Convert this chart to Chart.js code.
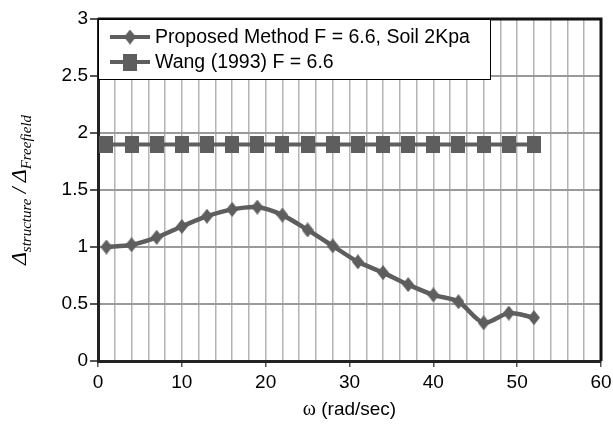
<!DOCTYPE html>
<html>
<head>
<meta charset="utf-8">
<script src="https://cdn.jsdelivr.net/npm/chart.js@4"></script>
<style>
  html, body { margin: 0; padding: 0; background: #fff; }
  #wrap { width: 613px; height: 431px; }
</style>
</head>
<body>
<div id="wrap"><canvas id="grafico" width="613" height="431"></canvas></div>
<script>
// Datos
const omega = [1, 4, 7, 10, 13, 16, 19, 22, 25, 28, 31, 34, 37, 40, 43, 46, 49, 52];
const propuesto = [1.0, 1.02, 1.085, 1.18, 1.27, 1.33, 1.35, 1.28, 1.15, 1.01, 0.87, 0.775, 0.67, 0.58, 0.52, 0.335, 0.42, 0.38];
const wang = [1.9, 1.9, 1.9, 1.9, 1.9, 1.9, 1.9, 1.9, 1.9, 1.9, 1.9, 1.9, 1.9, 1.9, 1.9, 1.9, 1.9, 1.9];
const etiquetas = ['Proposed Method F = 6.6, Soil 2Kpa', 'Wang (1993) F = 6.6'];

const gris = '#5e5e5e';
const fuente = '"Liberation Sans", Arial, sans-serif';

// marcadores algo alargados como en la figura original
const hacerMarcador = (tipo) => {
    const c = document.createElement('canvas');
    const w = tipo === 'diamante' ? 12 : 14;
    const h = tipo === 'diamante' ? 15 : 17;
    c.width = w; c.height = h;
    const g = c.getContext('2d');
    g.fillStyle = gris;
    if (tipo === 'diamante') {
        g.beginPath();
        g.moveTo(w / 2, 0); g.lineTo(w, h / 2); g.lineTo(w / 2, h); g.lineTo(0, h / 2);
        g.closePath(); g.fill();
    } else {
        g.fillRect(0, 0, w, h);
    }
    return c;
};
const diamante = hacerMarcador('diamante');
const cuadrado = hacerMarcador('cuadrado');

const puntos = (ys) => omega.map((x, i) => ({ x, y: ys[i] }));

// Leyenda, marco y titulos de ejes
const extras = {
    id: 'extras',
    afterDraw(chart) {
        const { ctx, chartArea: a } = chart;
        ctx.save();
        // marco superior y derecho
        ctx.strokeStyle = '#111';
        ctx.lineWidth = 3;
        ctx.beginPath();
        ctx.moveTo(a.left, a.top); ctx.lineTo(a.right, a.top); ctx.lineTo(a.right, a.bottom);
        ctx.stroke();

        // leyenda
        const lx = 98, ly = 19, lw = 392, lh = 60;
        ctx.fillStyle = '#fff';
        ctx.fillRect(lx, ly, lw, lh);
        ctx.strokeStyle = '#000';
        ctx.lineWidth = 1;
        ctx.strokeRect(lx + 0.5, ly + 0.5, lw, lh);
        const filas = [37, 62];
        const marcas = [diamante, cuadrado];
        filas.forEach((fy, i) => {
            ctx.strokeStyle = gris;
            ctx.lineWidth = 4;
            ctx.beginPath();
            ctx.moveTo(110, fy); ctx.lineTo(150, fy);
            ctx.stroke();
            const m = marcas[i];
            ctx.drawImage(m, 130 - m.width / 2, fy - m.height / 2);
            ctx.fillStyle = '#000';
            ctx.font = '19.5px ' + fuente;
            ctx.textBaseline = 'middle';
            ctx.textAlign = 'left';
            ctx.fillText(etiquetas[i], 155, fy + 1);
        });

        // titulo eje x
        ctx.fillStyle = '#000';
        ctx.textBaseline = 'alphabetic';
        const t1 = '\u03c9', t2 = ' (rad/sec)';
        ctx.font = '20px "Liberation Serif", serif';
        const w1 = ctx.measureText(t1).width;
        ctx.font = '19px ' + fuente;
        const w2 = ctx.measureText(t2).width;
        const x0 = (a.left + a.right) / 2 - (w1 + w2) / 2;
        ctx.font = '20px "Liberation Serif", serif';
        ctx.fillText(t1, x0, 415);
        ctx.font = '19px ' + fuente;
        ctx.fillText(t2, x0 + w1, 415);

        // titulo eje y con subindices
        const partes = [
            { t: '\u0394', f: 'italic 22px "Liberation Serif", serif', dy: 0 },
            { t: 'structure', f: 'italic 15px "Liberation Serif", serif', dy: 5 },
            { t: ' / ', f: 'italic 21px "Liberation Serif", serif', dy: 0 },
            { t: '\u0394', f: 'italic 22px "Liberation Serif", serif', dy: 0 },
            { t: 'Freefield', f: 'italic 15px "Liberation Serif", serif', dy: 5 }
        ];
        let total = 0;
        partes.forEach(p => { ctx.font = p.f; p.w = ctx.measureText(p.t).width; total += p.w; });
        ctx.translate(26, (a.top + a.bottom) / 2);
        ctx.rotate(-Math.PI / 2);
        let px = -total / 2;
        partes.forEach(p => {
            ctx.font = p.f;
            ctx.fillText(p.t, px, p.dy);
            px += p.w;
        });
        ctx.restore();
    }
};

new Chart(document.getElementById('grafico'), {
    type: 'line',
    data: {
        datasets: [
            {
                label: etiquetas[0],
                data: puntos(propuesto),
                borderColor: gris,
                borderWidth: 4.5,
                tension: 0.3,
                pointStyle: diamante,
                pointRadius: 7,
                pointHoverRadius: 7
            },
            {
                label: etiquetas[1],
                data: puntos(wang),
                borderColor: gris,
                borderWidth: 4,
                pointStyle: cuadrado,
                pointRadius: 8,
                pointHoverRadius: 8
            }
        ]
    },
    options: {
        responsive: false,
        animation: false,
        layout: { padding: { top: 19, right: 6, left: 0, bottom: 0 } },
        plugins: {
            legend: { display: false },
            tooltip: { enabled: false }
        },
        scales: {
            x: {
                type: 'linear',
                min: 0,
                max: 60,
                afterFit: (s) => { s.height = 70; s.paddingRight = 0; s.paddingLeft = 0; },
                ticks: {
                    stepSize: 2,
                    autoSkip: false,
                    maxRotation: 0,
                    padding: 4,
                    color: '#000',
                    font: { family: fuente, size: 19 },
                    callback: (v) => (v % 10 === 0 ? v : '')
                },
                grid: {
                    color: '#b4b4b4',
                    lineWidth: 1.5,
                    tickLength: 6,
                    tickColor: (c) => (c.tick && c.tick.value % 10 === 0 ? '#555' : 'rgba(0,0,0,0)')
                },
                border: { color: '#222', width: 3 }
            },
            y: {
                min: 0,
                max: 3,
                afterFit: (s) => { s.width = 98; },
                ticks: {
                    stepSize: 0.5,
                    padding: 2,
                    color: '#000',
                    font: { family: fuente, size: 19 },
                    callback: (v) => String(v)
                },
                grid: {
                    color: '#9a9a9a',
                    lineWidth: 2,
                    tickLength: 8,
                    tickColor: '#555'
                },
                border: { color: '#222', width: 3 }
            }
        }
    },
    plugins: [extras]
});
</script>
</body>
</html>
